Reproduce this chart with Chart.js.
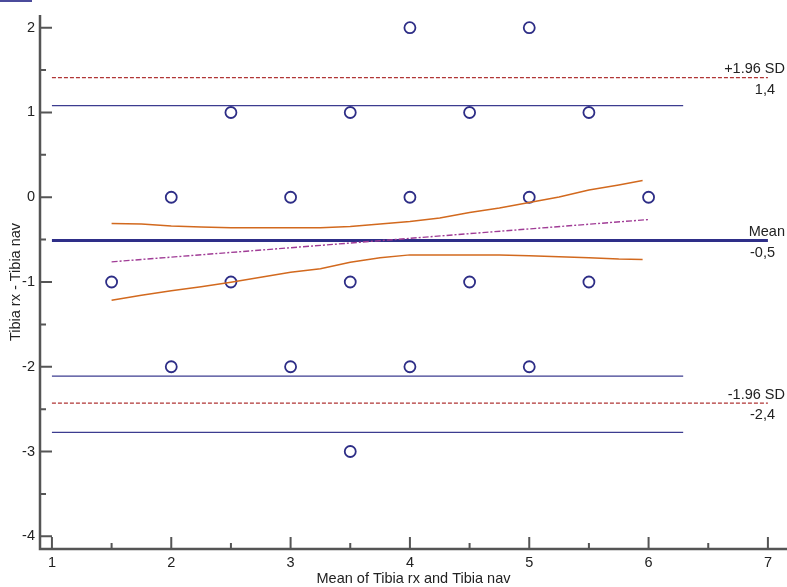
<!DOCTYPE html>
<html>
<head>
<meta charset="utf-8">
<script src="https://cdn.jsdelivr.net/npm/chart.js@4.4.1/dist/chart.umd.min.js"></script>
<style>
  html, body { margin: 0; padding: 0; background: #fff; }
  #wrap { position: relative; width: 787px; height: 587px; }
  #mark { position: absolute; left: 0; top: 0; width: 32px; height: 2px; background: #4b4b9b; }
</style>
</head>
<body>
<div id="wrap">
  <div id="mark"></div>
  <canvas id="chart" width="787" height="587"></canvas>
</div>
<script>
// observations (mean, difference)
const pointX = [4, 5, 2.5, 3.5, 4.5, 5.5, 2, 3, 4, 5, 6, 1.5, 2.5, 3.5, 4.5, 5.5, 2, 3, 4, 5, 3.5];
const pointY = [2, 2, 1, 1, 1, 1, 0, 0, 0, 0, 0, -1, -1, -1, -1, -1, -2, -2, -2, -2, -3];

// bias and limits of agreement
const meanDiff = -0.51;
const upperLoA = 1.41;
const lowerLoA = -2.43;
const ciValues = [1.08, -2.11, -2.775];
const lineStartX = 1;
const lineEndX = 7;
const ciEndX = 6.29;

// regression of difference on mean, with its confidence band
const regX = [1.5, 6];
const regY = [-0.762, -0.263];
const bandX = [1.5, 1.75, 2, 2.25, 2.5, 2.75, 3, 3.25, 3.5, 3.75, 4, 4.25, 4.5, 4.75, 5, 5.25, 5.5, 5.75, 5.95];
const bandUpper = [-0.309, -0.317, -0.34, -0.352, -0.361, -0.361, -0.361, -0.361, -0.346, -0.317, -0.287, -0.246, -0.181, -0.128, -0.063, 0.002, 0.085, 0.144, 0.197];
const bandLower = [-1.215, -1.156, -1.103, -1.056, -1.002, -0.943, -0.884, -0.843, -0.766, -0.713, -0.68, -0.68, -0.68, -0.68, -0.689, -0.701, -0.713, -0.73, -0.736];

// axis ticks
const xTicks = [1, 2, 3, 4, 5, 6, 7];
const xMinor = [1.5, 2.5, 3.5, 4.5, 5.5, 6.5];
const yTicks = [-4, -3, -2, -1, 0, 1, 2];
const yMinor = [-3.5, -2.5, -1.5, -0.5, 0.5, 1.5];

// right-hand line labels: [value, upper text, lower text]
const lineLabels = [
  [upperLoA, '+1.96 SD', '1,4'],
  [meanDiff, 'Mean', '-0,5'],
  [lowerLoA, '-1.96 SD', '-2,4']
];

const FONT = '"Liberation Sans", Arial, sans-serif';

function hline(y, x0, x1, color, width, dash) {
  return {
    type: 'line',
    data: [{x: x0, y: y}, {x: x1, y: y}],
    borderColor: color,
    borderWidth: width,
    borderDash: dash || [],
    pointRadius: 0,
    fill: false
  };
}

const datasets = [];
ciValues.forEach(v => datasets.push(hline(v, lineStartX, ciEndX, '#3c3c90', 1.3)));
datasets.push(hline(upperLoA, lineStartX, lineEndX, '#b03535', 1.3, [4, 2]));
datasets.push(hline(lowerLoA, lineStartX, lineEndX, '#b03535', 1.3, [4, 2]));
datasets.push({
  type: 'line',
  data: bandX.map((x, i) => ({x: x, y: bandUpper[i]})),
  borderColor: '#d2691e', borderWidth: 1.5, pointRadius: 0, fill: false
});
datasets.push({
  type: 'line',
  data: bandX.map((x, i) => ({x: x, y: bandLower[i]})),
  borderColor: '#d2691e', borderWidth: 1.5, pointRadius: 0, fill: false
});
datasets.push({
  type: 'line',
  data: regX.map((x, i) => ({x: x, y: regY[i]})),
  borderColor: '#a03c96', borderWidth: 1.4, borderDash: [6, 2, 2, 2], pointRadius: 0, fill: false
});
datasets.push(hline(meanDiff, lineStartX, lineEndX, '#2e2e88', 3));
datasets.push({
  type: 'scatter',
  data: pointX.map((x, i) => ({x: x, y: pointY[i]})),
  pointStyle: 'circle',
  pointRadius: 5.5,
  pointBorderWidth: 1.8,
  borderColor: '#2d2d86',
  backgroundColor: 'rgba(0,0,0,0)'
});

// axis lines, inward tick marks and the labels beside the limit lines
const axesPlugin = {
  id: 'axes',
  afterDraw(chart) {
    const ctx = chart.ctx;
    const xs = chart.scales.x, ys = chart.scales.y;
    const a = chart.chartArea;
    ctx.save();
    ctx.strokeStyle = '#555';
    ctx.lineWidth = 2.5;
    ctx.beginPath();
    ctx.moveTo(a.left, a.top);
    ctx.lineTo(a.left, a.bottom);
    ctx.lineTo(a.right, a.bottom);
    ctx.stroke();

    ctx.lineWidth = 2;
    ctx.beginPath();
    xTicks.forEach(v => { const p = xs.getPixelForValue(v); ctx.moveTo(p, a.bottom); ctx.lineTo(p, a.bottom - 12); });
    xMinor.forEach(v => { const p = xs.getPixelForValue(v); ctx.moveTo(p, a.bottom); ctx.lineTo(p, a.bottom - 6); });
    yTicks.forEach(v => { const p = ys.getPixelForValue(v); ctx.moveTo(a.left, p); ctx.lineTo(a.left + 12, p); });
    yMinor.forEach(v => { const p = ys.getPixelForValue(v); ctx.moveTo(a.left, p); ctx.lineTo(a.left + 6, p); });
    ctx.stroke();

    ctx.fillStyle = '#222';
    ctx.font = '14.5px ' + FONT;
    ctx.textAlign = 'right';
    lineLabels.forEach(l => {
      const p = ys.getPixelForValue(l[0]);
      ctx.textBaseline = 'bottom';
      ctx.fillText(l[1], 785, p - 1);
      ctx.textBaseline = 'top';
      ctx.fillText(l[2], 775, p + 5);
    });
    ctx.restore();
  }
};

new Chart(document.getElementById('chart').getContext('2d'), {
  data: { datasets: datasets },
  plugins: [axesPlugin],
  options: {
    responsive: false,
    animation: false,
    layout: { autoPadding: false, padding: { top: 15, right: 0, left: 0, bottom: 0 } },
    plugins: { legend: { display: false }, tooltip: { enabled: false } },
    scales: {
      x: {
        type: 'linear',
        min: 0.9,
        max: 7.16,
        grid: { display: false, drawTicks: false },
        border: { display: false },
        afterBuildTicks: s => { s.ticks = xTicks.map(v => ({value: v})); },
        afterFit: s => { s.height = 38; },
        ticks: { padding: 5, color: '#222', font: { family: FONT, size: 14.5 } },
        title: { display: true, text: 'Mean of Tibia rx and Tibia nav', color: '#222',
                 font: { family: FONT, size: 14.5 }, padding: { top: 0, bottom: -1 } }
      },
      y: {
        type: 'linear',
        min: -4.15,
        max: 2.15,
        grid: { display: false, drawTicks: false },
        border: { display: false },
        afterBuildTicks: s => { s.ticks = yTicks.map(v => ({value: v})); },
        afterFit: s => { s.width = 40; },
        ticks: { padding: 5, color: '#222', font: { family: FONT, size: 14.5 } },
        title: { display: true, text: 'Tibia rx - Tibia nav', color: '#222',
                 font: { family: FONT, size: 14.5 }, padding: { top: 7, bottom: 0 } }
      }
    }
  }
});
</script>
</body>
</html>
